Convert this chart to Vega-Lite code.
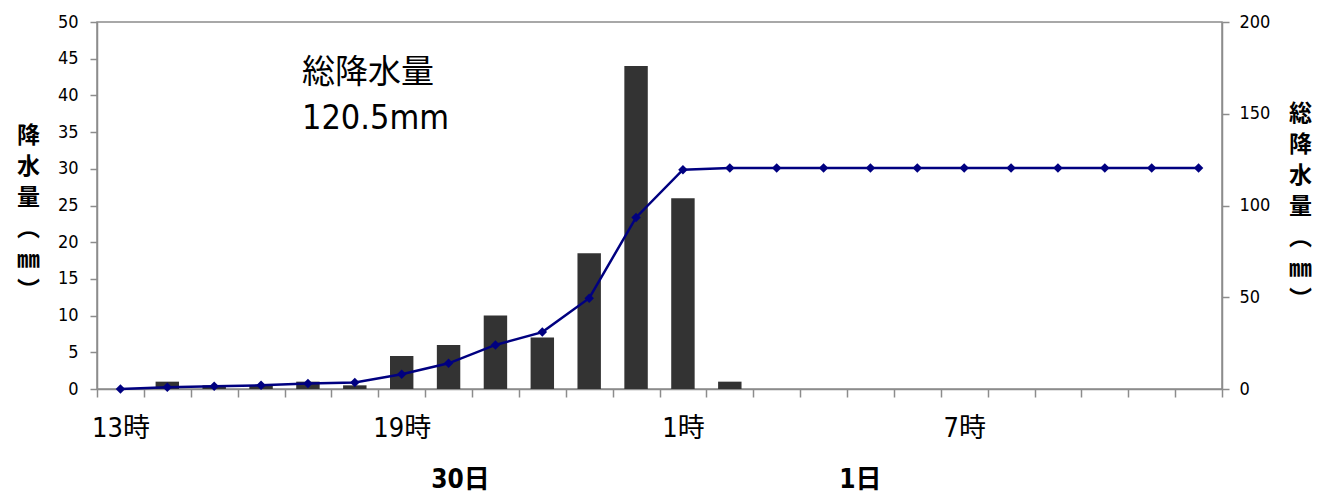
{
  "$schema": "https://vega.github.io/schema/vega-lite/v6.json",
  "width": 1125,
  "height": 367,
  "autosize": "none",
  "padding": {"left": 97, "top": 22, "right": 115, "bottom": 108},
  "config": {
    "font": "Liberation Sans Narrow, DejaVu Sans Condensed, Noto Sans CJK JP",
    "view": {"stroke": "#8c8c8c", "strokeWidth": 1.5},
    "axis": {"grid": false, "domainColor": "#8c8c8c", "tickColor": "#8c8c8c", "domainWidth": 1.5, "tickWidth": 1.5, "labelColor": "#000", "titleColor": "#000"}
  },
  "data": {
    "values": [
      {"hour": "13時", "rain": 0, "total": 0},
      {"hour": "14時", "rain": 1, "total": 1},
      {"hour": "15時", "rain": 0.5, "total": 1.5},
      {"hour": "16時", "rain": 0.5, "total": 2},
      {"hour": "17時", "rain": 1, "total": 3},
      {"hour": "18時", "rain": 0.5, "total": 3.5},
      {"hour": "19時", "rain": 4.5, "total": 8},
      {"hour": "20時", "rain": 6, "total": 14},
      {"hour": "21時", "rain": 10, "total": 24},
      {"hour": "22時", "rain": 7, "total": 31},
      {"hour": "23時", "rain": 18.5, "total": 49.5},
      {"hour": "0時", "rain": 44, "total": 93.5},
      {"hour": "1時", "rain": 26, "total": 119.5},
      {"hour": "2時", "rain": 1, "total": 120.5},
      {"hour": "3時", "rain": 0, "total": 120.5},
      {"hour": "4時", "rain": 0, "total": 120.5},
      {"hour": "5時", "rain": 0, "total": 120.5},
      {"hour": "6時", "rain": 0, "total": 120.5},
      {"hour": "7時", "rain": 0, "total": 120.5},
      {"hour": "8時", "rain": 0, "total": 120.5},
      {"hour": "9時", "rain": 0, "total": 120.5},
      {"hour": "10時", "rain": 0, "total": 120.5},
      {"hour": "11時", "rain": 0, "total": 120.5},
      {"hour": "12時", "rain": 0, "total": 120.5}
    ]
  },
  "encoding": {
    "x": {
      "field": "hour",
      "type": "ordinal",
      "sort": null,
      "scale": {"paddingInner": 0, "paddingOuter": 0},
      "axis": {
        "title": null,
        "labelAngle": 0,
        "tickBand": "extent",
        "tickSize": 8,
        "labelFontSize": 27,
        "labelPadding": 18,
        "labelExpr": "indexof(['13時','19時','1時','7時'], datum.value) >= 0 ? datum.value : ''"
      }
    }
  },
  "layer": [
    {
      "mark": {"type": "bar", "color": "#333333", "width": {"band": 0.5}},
      "encoding": {
        "y": {
          "field": "rain",
          "type": "quantitative",
          "scale": {"domain": [0, 50]},
          "axis": {
            "values": [0, 5, 10, 15, 20, 25, 30, 35, 40, 45, 50],
            "tickSize": 7,
            "labelFontSize": 18,
            "labelPadding": 12,
            "title": ["降", "水", "量", "︵", "㎜", "︶"],
            "titleAngle": 0,
            "titleFontSize": 23,
            "titleFontWeight": "bold",
            "titleFont": "Noto Sans CJK JP",
            "titleLineHeight": 31,
            "titleAlign": "center",
            "titleBaseline": "top",
            "titleX": -69,
            "titleY": 102
          }
        }
      }
    },
    {
      "mark": {"type": "line", "color": "#000080", "strokeWidth": 2.5, "point": {"shape": "diamond", "size": 90, "color": "#000080", "filled": true}},
      "encoding": {
        "y": {
          "field": "total",
          "type": "quantitative",
          "scale": {"domain": [0, 200]},
          "axis": {
            "orient": "right",
            "values": [0, 50, 100, 150, 200],
            "tickSize": 7,
            "labelFontSize": 18,
            "labelPadding": 10,
            "title": ["総", "降", "水", "量", "︵", "㎜", "︶"],
            "titleAngle": 0,
            "titleFontSize": 23,
            "titleFontWeight": "bold",
            "titleFont": "Noto Sans CJK JP",
            "titleLineHeight": 31,
            "titleAlign": "center",
            "titleBaseline": "top",
            "titleX": 78,
            "titleY": 80
          }
        }
      }
    },
    {
      "data": {"values": [{"label": "総降水量"}]},
      "mark": {"type": "text", "align": "left", "baseline": "middle", "fontSize": 33, "font": "Noto Sans CJK JP", "dx": -6},
      "encoding": {
        "x": {"datum": "17時"},
        "y": {"datum": 43, "scale": {"domain": [0, 50]}, "axis": null},
        "text": {"field": "label"}
      }
    },
    {
      "data": {"values": [{"label": "120.5mm"}]},
      "mark": {"type": "text", "align": "left", "baseline": "middle", "fontSize": 34, "dx": -6},
      "encoding": {
        "x": {"datum": "17時"},
        "y": {"datum": 36.8, "scale": {"domain": [0, 50]}, "axis": null},
        "text": {"field": "label"}
      }
    },
    {
      "data": {"values": [{"label": "30日"}]},
      "mark": {"type": "text", "align": "center", "baseline": "middle", "fontSize": 26, "fontWeight": "bold", "dx": 12},
      "encoding": {
        "x": {"datum": "20時"},
        "y": {"datum": -12.4, "scale": {"domain": [0, 50]}, "axis": null},
        "text": {"field": "label"}
      }
    },
    {
      "data": {"values": [{"label": "1日"}]},
      "mark": {"type": "text", "align": "center", "baseline": "middle", "fontSize": 26, "fontWeight": "bold", "dx": -10},
      "encoding": {
        "x": {"datum": "5時"},
        "y": {"datum": -12.4, "scale": {"domain": [0, 50]}, "axis": null},
        "text": {"field": "label"}
      }
    }
  ],
  "resolve": {"scale": {"y": "independent"}}
}
